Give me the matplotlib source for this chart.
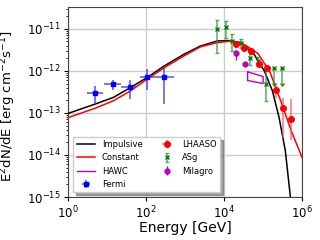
"""SED of the source: Impulsive / Constant models against gamma-ray data."""

import matplotlib

matplotlib.use("Agg")
import matplotlib.pyplot as plt
import numpy as np

# model curves, log10(E/GeV) vs log10(E^2 dN/dE)
impulsive_loge = [0.0, 0.69, 1.16, 1.59, 2.02, 2.47, 2.96, 3.39, 3.82, 4.08, 4.43,
                  4.77, 5.03, 5.24, 5.41, 5.57, 5.70]
impulsive_logf = [-13.01, -12.79, -12.63, -12.40, -12.16, -11.88, -11.61, -11.41,
                  -11.29, -11.28, -11.33, -11.61, -12.00, -12.48, -13.11, -13.90, -15.0]
constant_loge = [0.0, 0.69, 1.16, 1.59, 2.02, 2.47, 2.96, 3.39, 3.82, 4.19, 4.51,
                 4.87, 5.18, 5.45, 5.72, 6.0]
constant_logf = [-13.11, -12.89, -12.71, -12.48, -12.20, -11.92, -11.65, -11.43,
                 -11.33, -11.29, -11.37, -11.59, -12.04, -12.71, -13.42, -14.06]

# HAWC butterfly (upper edge then lower edge)
hawc_e = [4.0e4, 1.0e5, 1.0e5, 4.0e4, 4.0e4]
hawc_f = [9.5e-13, 7.3e-13, 5.0e-13, 5.9e-13, 9.5e-13]

# Fermi
fermi_e = [4.9, 14.0, 39.0, 105.0, 290.0]
fermi_e_lo = [3.1, 8.3, 23.0, 68.0, 185.0]
fermi_e_hi = [7.9, 23.0, 56.0, 185.0, 520.0]
fermi_f = [3.0e-13, 4.9e-13, 4.2e-13, 7.2e-13, 7.2e-13]
fermi_f_lo = [1.6e-13, 3.5e-13, 2.1e-13, 3.5e-13, 1.6e-13]
fermi_f_hi = [4.4e-13, 6.2e-13, 6.2e-13, 1.12e-12, 1.17e-12]

# LHAASO
lhaaso_e = [2.0e4, 3.2e4, 5.0e4, 7.9e4, 1.29e5, 2.1e5, 3.3e5, 5.1e5]
lhaaso_f = [4.4e-12, 3.4e-12, 3.0e-12, 1.45e-12, 1.2e-12, 3.5e-13, 1.3e-13, 7.0e-14]
lhaaso_f_lo = [4.0e-12, 3.1e-12, 2.7e-12, 1.3e-12, 1.05e-12, 2.3e-13, 2.6e-14, 2.3e-14]
lhaaso_f_hi = [4.8e-12, 3.7e-12, 3.3e-12, 1.6e-12, 1.35e-12, 5.0e-13, 2.3e-13, 2.2e-13]

# ASgamma (last two are upper limits)
asg_e = [6.6e3, 1.12e4, 1.55e4, 2.7e4, 4.6e4, 7.4e4, 1.17e5, 1.86e5, 3.0e5]
asg_f = [1.0e-11, 1.1e-11, 5.1e-12, 4.7e-12, 2.0e-12, 1.73e-12, 4.8e-13, 1.2e-12, 1.2e-12]
asg_f_lo = [2.7e-12, 6.2e-12, 2.9e-12, 3.5e-12, 1.38e-12, 1.32e-12, 1.95e-13, 5.2e-13, 5.2e-13]
asg_f_hi = [1.66e-11, 1.5e-11, 7.4e-12, 5.6e-12, 2.95e-12, 2.14e-12, 1.32e-12, 1.2e-12, 1.2e-12]
asg_ul = [False, False, False, False, False, False, False, True, True]

# Milagro
milagro_e = [2.05e4, 3.5e4]
milagro_f = [2.6e-12, 1.44e-12]
milagro_f_lo = [1.78e-12, 1.44e-12]
milagro_f_hi = [3.2e-12, 1.44e-12]

x_ticks = [1, 1e2, 1e4, 1e6]
y_ticks = [1e-15, 1e-14, 1e-13, 1e-12, 1e-11]


def errs(center, lo, hi):
    center = np.asarray(center)
    return [center - np.asarray(lo), np.asarray(hi) - center]


fig = plt.figure(figsize=(3.2, 2.4), dpi=100)
ax = fig.add_axes([0.2135, 0.179, 0.7305, 0.792])

ax.plot(10 ** np.array(impulsive_loge), 10 ** np.array(impulsive_logf),
        color="black", lw=1.1, label="Impulsive", zorder=3)
ax.plot(10 ** np.array(constant_loge), 10 ** np.array(constant_logf),
        color="red", lw=1.1, label="Constant", zorder=3)
ax.plot(hawc_e, hawc_f, color="m", lw=1.0, label="HAWC", zorder=4)

ax.errorbar(fermi_e, fermi_f, xerr=errs(fermi_e, fermi_e_lo, fermi_e_hi),
            yerr=errs(fermi_f, fermi_f_lo, fermi_f_hi), fmt="s", color="blue",
            ms=3.5, elinewidth=1.1, ecolor=(0.2, 0.2, 1.0, 0.85), label="Fermi", zorder=5)

lhaaso_e_arr = np.array(lhaaso_e)
ax.errorbar(lhaaso_e, lhaaso_f,
            xerr=[lhaaso_e_arr * (1 - 10 ** -0.08), lhaaso_e_arr * (10 ** 0.08 - 1)],
            yerr=errs(lhaaso_f, lhaaso_f_lo, lhaaso_f_hi), fmt="o", color="red",
            ms=4, elinewidth=1.1, ecolor=(1.0, 0.3, 0.3, 0.8), label="LHAASO", zorder=6)

ax.errorbar(asg_e, asg_f, yerr=errs(asg_f, asg_f_lo, asg_f_hi), uplims=asg_ul,
            fmt="x", color="green", ms=3, mew=1.0, capsize=1.5, elinewidth=1.1,
            ecolor=(0.2, 0.6, 0.2, 0.8), label="ASg", zorder=5)

ax.errorbar(milagro_e, milagro_f, yerr=errs(milagro_f, milagro_f_lo, milagro_f_hi),
            fmt="o", color="m", ms=3.5, elinewidth=1.0, label="Milagro", zorder=5)

ax.set_xscale("log")
ax.set_yscale("log")
ax.set_xlim(1, 1e6)
ax.set_ylim(1e-15, 3.3e-11)
ax.set_xticks(x_ticks)
ax.set_yticks(y_ticks)
ax.set_xticks([], minor=True)
minor_y = [m * 10.0 ** p for p in range(-15, -10) for m in range(2, 10)
           if m * 10.0 ** p <= 3.3e-11]
ax.set_yticks(minor_y, minor=True)
ax.yaxis.set_minor_formatter(plt.NullFormatter())
ax.grid(True, color="#cccccc", lw=1.0)
ax.set_axisbelow(True)
for spine in ax.spines.values():
    spine.set_color("#444444")
ax.tick_params(labelsize=8.5, length=3, pad=2.5)
ax.tick_params(which="minor", length=1.5)
ax.set_xlabel("Energy [GeV]", fontsize=10, labelpad=0)
ax.set_ylabel(r"E$^2$dN/dE [erg cm$^{-2}$s$^{-1}$]", fontsize=9.5)
ax.yaxis.set_label_coords(-0.215, 0.48)

ax.legend(loc="lower left", ncol=2, fontsize=6, shadow=True, fancybox=False,
          framealpha=1.0, borderaxespad=0.6, columnspacing=1.8, handlelength=2.2)

fig.savefig("out.png", dpi=100)
